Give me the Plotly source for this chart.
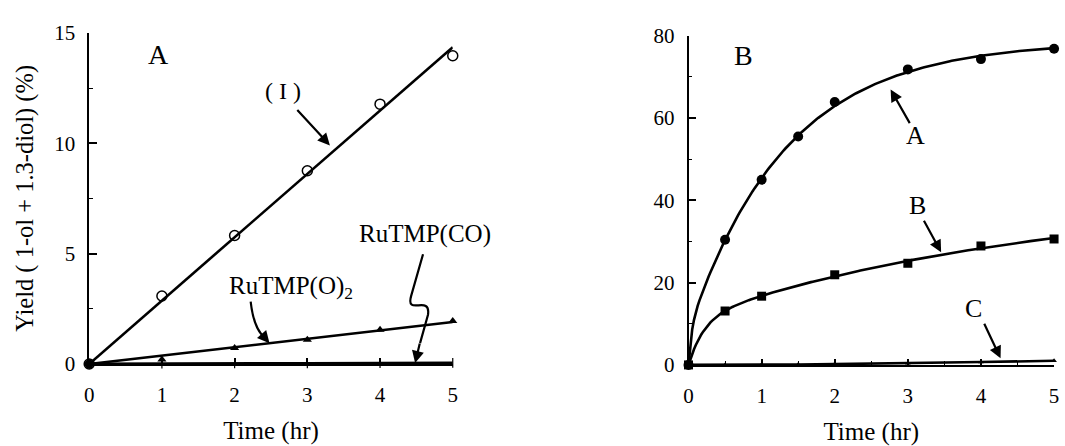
import numpy as np
import plotly.graph_objects as go

# ---------------- data ----------------
time_A = [0, 1, 2, 3, 4, 5]
yield_I = [0, 3.08, 5.82, 8.75, 11.77, 13.96]
yield_O2 = [0, 0.2, 0.72, 1.1, 1.55, 1.95]
yield_CO = [0, 0.02, 0.03, 0.03, 0.04, 0.05]

time_B = [0, 0.5, 1, 1.5, 2, 3, 4, 5]
curve_A = [0, 30.4, 45.0, 55.5, 63.9, 71.8, 74.3, 76.8]
time_B2 = [0, 0.5, 1, 2, 3, 4, 5]
curve_B = [0, 13.1, 16.7, 21.9, 24.7, 28.9, 30.6]
curve_C = [0, 0.0, 0.1, 0.1, 0.2, 0.4, 0.7, 1.0]

xticks = [0, 1, 2, 3, 4, 5]
yticks_A = [0, 5, 10, 15]
yticks_B = [0, 20, 40, 60, 80]

FONT = "Liberation Serif"
BLACK = "black"


def fit_origin(xs, ys):
    """least-squares straight line through the origin (the drawn fit line)"""
    sxy = sum(x * y for x, y in zip(xs, ys))
    sxx = sum(x * x for x in xs)
    k = sxy / sxx
    return [xs[0], xs[-1]], [k * xs[0], k * xs[-1]]


def fit_biexp(xs, ys, n=201):
    """smooth least-squares fit a(1-e^-k1 t) + c(1-e^-k2 t) to the measured points"""
    t = np.asarray(xs, float)
    y = np.asarray(ys, float)
    ks = np.geomspace(0.03, 25, 70)
    best = None
    for i, k1 in enumerate(ks):
        for k2 in ks[i + 1:]:
            M = np.column_stack([1 - np.exp(-k1 * t), 1 - np.exp(-k2 * t)])
            coef, *_ = np.linalg.lstsq(M, y, rcond=None)
            if coef.min() < 0:
                continue
            err = float(((M @ coef - y) ** 2).sum())
            if best is None or err < best[0]:
                best = (err, k1, k2, coef)
    _, k1, k2, coef = best
    tt = np.linspace(t.min(), t.max(), n)
    yy = coef[0] * (1 - np.exp(-k1 * tt)) + coef[1] * (1 - np.exp(-k2 * tt))
    return tt, yy


# pixel -> data helpers for decorations (annotations / arrows)
def pa(px, py):
    return (px - 85) / 73.4, (372 - py) / 23.333


def pb(px, py):
    return (px - 690) / 73.8, (373 - py) / 4.35


fig = go.Figure()

# ---------- panel A ----------
fx, fy = fit_origin(time_A, yield_I)
fig.add_trace(go.Scatter(x=fx, y=fy, mode="lines", line=dict(color=BLACK, width=2.6),
                         xaxis="x", yaxis="y", cliponaxis=False))
fig.add_trace(go.Scatter(x=time_A, y=yield_I, mode="markers",
                         marker=dict(symbol="circle-open", size=10, color=BLACK, line=dict(width=1.5)),
                         xaxis="x", yaxis="y", cliponaxis=False))
fx, fy = fit_origin(time_A, yield_O2)
fig.add_trace(go.Scatter(x=fx, y=fy, mode="lines", line=dict(color=BLACK, width=2.6),
                         xaxis="x", yaxis="y", cliponaxis=False))
fig.add_trace(go.Scatter(x=time_A, y=yield_O2, mode="markers",
                         marker=dict(symbol="triangle-up", size=8, color=BLACK),
                         xaxis="x", yaxis="y", cliponaxis=False))
fig.add_trace(go.Scatter(x=time_A, y=yield_CO, mode="lines+markers",
                         line=dict(color=BLACK, width=2.8),
                         marker=dict(symbol="line-ns-open", size=7, color=BLACK, line=dict(width=1.2)),
                         xaxis="x", yaxis="y", cliponaxis=False))
fig.add_trace(go.Scatter(x=[0], y=[0], mode="markers",
                         marker=dict(symbol="circle", size=9, color=BLACK),
                         xaxis="x", yaxis="y", cliponaxis=False))

# ---------- panel B ----------
tA, yA = fit_biexp(time_B, curve_A)
fig.add_trace(go.Scatter(x=tA, y=yA, mode="lines", line=dict(color=BLACK, width=2.6),
                         xaxis="x2", yaxis="y2", cliponaxis=False))
fig.add_trace(go.Scatter(x=time_B, y=curve_A, mode="markers",
                         marker=dict(symbol="circle", size=10, color=BLACK),
                         xaxis="x2", yaxis="y2", cliponaxis=False))
tB, yB = fit_biexp(time_B2, curve_B)
fig.add_trace(go.Scatter(x=tB, y=yB, mode="lines", line=dict(color=BLACK, width=2.6),
                         xaxis="x2", yaxis="y2", cliponaxis=False))
fig.add_trace(go.Scatter(x=time_B2, y=curve_B, mode="markers",
                         marker=dict(symbol="square", size=9, color=BLACK),
                         xaxis="x2", yaxis="y2", cliponaxis=False))
fig.add_trace(go.Scatter(x=time_B, y=curve_C, mode="lines+markers",
                         line=dict(color=BLACK, width=2.6),
                         marker=dict(symbol="triangle-up", size=5, color=BLACK),
                         xaxis="x2", yaxis="y2", cliponaxis=False))

tickfont = dict(family=FONT, size=21, color=BLACK)
titlefont = dict(family=FONT, size=25, color=BLACK)


def axis_common(standoff):
    return dict(showline=True, linecolor=BLACK, linewidth=1.6, showgrid=False,
                zeroline=False, ticks="inside", tickcolor=BLACK, tickwidth=1.5,
                tickfont=dict(tickfont), ticklabelstandoff=standoff)


fig.update_layout(
    width=1065, height=446,
    margin=dict(l=0, r=0, t=0, b=0),
    paper_bgcolor="white", plot_bgcolor="white",
    font=dict(family=FONT, size=21, color=BLACK),
    showlegend=False,
    xaxis=dict(domain=[85 / 1065, 452 / 1065], range=[0, 5], tickvals=xticks, ticklen=6,
               anchor="y", title=dict(text="Time (hr)", font=titlefont, standoff=16),
               **axis_common(11)),
    yaxis=dict(domain=[(446 - 372) / 446, (446 - 22) / 446], range=[0, 15], tickvals=yticks_A,
               ticklen=8, anchor="x",
               minor=dict(dtick=2.5, tick0=0, ticks="inside", ticklen=4, tickcolor=BLACK, tickwidth=1.2),
               title=dict(text="Yield ( 1-ol + 1.3-diol) (%)", font=dict(family=FONT, size=24.5, color=BLACK),
                          standoff=14),
               **axis_common(8)),
    xaxis2=dict(domain=[690 / 1065, 1059 / 1065], range=[0, 5], tickvals=xticks, ticklen=6,
                anchor="y2",
                minor=dict(dtick=0.5, tick0=0, ticks="inside", ticklen=4, tickcolor=BLACK, tickwidth=1.2),
                title=dict(text="Time (hr)", font=titlefont, standoff=16),
                **axis_common(11)),
    yaxis2=dict(domain=[(446 - 373) / 446, (446 - 25) / 446], range=[0, 80], tickvals=yticks_B,
                ticklen=8, anchor="x2",
                minor=dict(dtick=10, tick0=0, ticks="inside", ticklen=4, tickcolor=BLACK, tickwidth=1.2),
                **axis_common(8)),
)

annots = []
shapes = []


def label(xy, text, xref, yref, size=25):
    annots.append(dict(x=xy[0], y=xy[1], xref=xref, yref=yref, text=text, showarrow=False,
                       font=dict(family=FONT, size=size, color=BLACK)))


def arrow(head, tail_px, head_px, xref, yref):
    annots.append(dict(x=head[0], y=head[1], xref=xref, yref=yref, text="", showarrow=True,
                       ax=tail_px[0] - head_px[0], ay=tail_px[1] - head_px[1],
                       arrowhead=2, arrowsize=1.1, arrowwidth=2.2, arrowcolor=BLACK, standoff=0))


# panel A labels
label(pa(155, 45), "A", "x", "y", 28)
label(pa(281, 83), "( I )", "x", "y", 24)
arrow(pa(328, 141), (294, 104), (328, 141), "x", "y")
label(pa(424, 235), "RuTMP(CO)", "x", "y", 25)
label(pa(289, 291), "RuTMP(O)<sub>2</sub>", "x", "y", 25)


def path_from(pts, conv):
    cmds = []
    for c, p in pts:
        if c == "C":
            q = [conv(*pp) for pp in p]
            cmds.append("C " + " ".join(f"{a:.4f},{b:.4f}" for a, b in q))
        else:
            a, b = conv(*p)
            cmds.append(f"{c} {a:.4f},{b:.4f}")
    return " ".join(cmds)


# curved arrow to RuTMP(O)2 line
p_o2 = path_from([("M", (248, 306)), ("C", [(250, 325), (254, 337), (262, 344)])], pa)
shapes.append(dict(type="path", path=p_o2, xref="x", yref="y", line=dict(color=BLACK, width=2.2)))
arrow(pa(267, 350), (261, 343), (267, 350), "x", "y")

# squiggle arrow to RuTMP(CO) line
p_co = path_from([("M", (422, 256)), ("L", (410, 300)),
                  ("C", [(404, 322), (430, 298), (427, 320)]),
                  ("L", (419, 350))], pa)
shapes.append(dict(type="path", path=p_co, xref="x", yref="y", line=dict(color=BLACK, width=2.2)))
arrow(pa(414, 371), (419, 350), (414, 371), "x", "y")

# panel B labels
label(pb(745, 46), "B", "x2", "y2", 28)
label(pb(919, 131), "A", "x2", "y2", 26)
arrow(pb(894, 82), (914, 117), (894, 82), "x2", "y2")
label(pb(921, 204), "B", "x2", "y2", 26)
arrow(pb(945, 254), (927, 221), (945, 254), "x2", "y2")
label(pb(978, 313), "C", "x2", "y2", 26)
arrow(pb(1005, 366), (988, 330), (1005, 366), "x2", "y2")

fig.update_layout(annotations=annots, shapes=shapes)

fig.write_html("out.html", config={"displayModeBar": False},
               post_script="document.body.style.margin='0';")
